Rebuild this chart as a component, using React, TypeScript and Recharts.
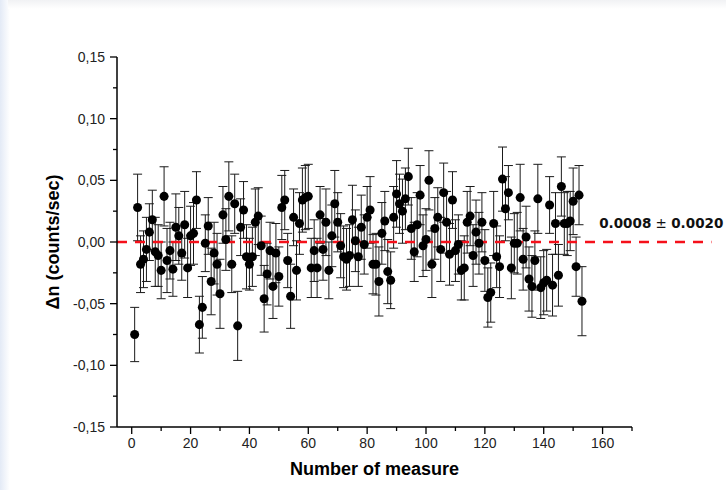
import React from 'react';
import { ScatterChart, Scatter, XAxis, YAxis, ErrorBar, ReferenceLine, ReferenceDot, Label } from 'recharts';

// Δn per measure (counts/sec), measure number = index + 1
const deltaN = [
  -0.075, 0.028, -0.018, -0.014, -0.006, 0.008, 0.018, -0.008, -0.011, -0.023,
  0.037, -0.015, -0.007, -0.022, 0.012, 0.005, -0.009, 0.014, -0.021, 0.005,
  0.007, 0.034, -0.067, -0.053, -0.001, 0.013, -0.032, -0.009, -0.018, -0.042,
  0.022, 0.002, 0.037, -0.018, 0.031, -0.068, 0.012, 0.026, -0.012, -0.018,
  -0.012, 0.016, 0.021, -0.003, -0.046, -0.026, -0.007, -0.036, -0.009, -0.028,
  0.028, 0.034, -0.015, -0.044, 0.02, -0.023, 0.015, 0.034, 0.036, 0.037,
  -0.021, -0.007, -0.021, 0.022, -0.006, 0.016, -0.023, 0.005, 0.031, 0.016,
  -0.003, -0.012, -0.014, -0.011, 0.018, 0.001, -0.012, 0.012, -0.002, 0.02,
  0.026, -0.018, -0.018, -0.032, 0.007, 0.017, -0.024, -0.031, 0.02, 0.039,
  0.031, 0.025, 0.035, 0.053, 0.011, -0.008, 0.014, 0.038, -0.003, 0.002,
  0.05, -0.018, 0.011, 0.02, -0.006, 0.04, 0.016, -0.01, 0.034, -0.007,
  -0.002, -0.023, -0.021, 0.016, 0.021, -0.011, 0.008, -0.001, 0.016, -0.015,
  -0.045, -0.041, 0.015, -0.012, -0.02, 0.051, 0.027, 0.04, -0.021, -0.001,
  -0.001, 0.036, -0.014, 0.004, -0.03, -0.036, -0.015, 0.035, -0.037, -0.033,
  -0.031, 0.03, -0.035, 0.015, -0.027, 0.045, 0.015, 0.015, 0.017, 0.033,
  -0.02, 0.038, -0.048,
];

const deltaErr = [
  0.022, 0.027, 0.023, 0.023, 0.026, 0.023, 0.024, 0.028, 0.025, 0.023,
  0.024, 0.026, 0.023, 0.022, 0.027, 0.023, 0.022, 0.027, 0.024, 0.024,
  0.025, 0.023, 0.023, 0.025, 0.023, 0.023, 0.027, 0.025, 0.025, 0.028,
  0.023, 0.025, 0.028, 0.023, 0.024, 0.028, 0.023, 0.023, 0.026, 0.021,
  0.024, 0.027, 0.023, 0.024, 0.027, 0.025, 0.023, 0.026, 0.024, 0.024,
  0.026, 0.024, 0.022, 0.026, 0.023, 0.024, 0.025, 0.026, 0.026, 0.026,
  0.024, 0.025, 0.024, 0.023, 0.025, 0.027, 0.023, 0.025, 0.027, 0.024,
  0.026, 0.025, 0.025, 0.025, 0.028, 0.025, 0.024, 0.026, 0.024, 0.025,
  0.027, 0.024, 0.025, 0.028, 0.025, 0.024, 0.026, 0.023, 0.025, 0.027,
  0.024, 0.026, 0.025, 0.023, 0.025, 0.024, 0.026, 0.024, 0.025, 0.025,
  0.024, 0.027, 0.025, 0.024, 0.026, 0.024, 0.025, 0.025, 0.023, 0.025,
  0.024, 0.024, 0.026, 0.025, 0.024, 0.025, 0.026, 0.025, 0.024, 0.025,
  0.024, 0.024, 0.026, 0.025, 0.025, 0.026, 0.026, 0.022, 0.025, 0.024,
  0.025, 0.027, 0.025, 0.025, 0.026, 0.025, 0.024, 0.028, 0.025, 0.026,
  0.025, 0.023, 0.025, 0.025, 0.025, 0.024, 0.025, 0.026, 0.024, 0.027,
  0.024, 0.024, 0.028,
];

const xTicks = [0, 10, 20, 30, 40, 50, 60, 70, 80, 90, 100, 110, 120, 130, 140, 150, 160, 170];
const yTicks = [-0.15, -0.125, -0.1, -0.075, -0.05, -0.025, 0, 0.025, 0.05, 0.075, 0.1, 0.125, 0.15];

const fitMean = '0.0008';
const fitErr = '0.0020';

const points = deltaN.map((dn, i) => ({ measure: i + 1, dn, err: deltaErr[i] }));

const font = 'Liberation Sans, Arial, sans-serif';

const XTick = (props: any) => {
  const { x, y, payload } = props;
  const v = payload.value;
  const major = v % 20 === 0;
  return (
    <g>
      <line x1={x} x2={x} y1={y} y2={y + (major ? 7 : 4)} stroke="#000" strokeWidth={1.3} />
      {major && (
        <text x={x} y={y + 21} textAnchor="middle" fontSize={14} fontFamily={font} fill="#222">
          {v}
        </text>
      )}
    </g>
  );
};

const YTick = (props: any) => {
  const { x, y, payload } = props;
  const v = payload.value;
  const major = Math.round(v * 1000) % 50 === 0;
  return (
    <g>
      <line x1={x} x2={x - (major ? 7 : 4)} y1={y} y2={y} stroke="#000" strokeWidth={1.3} />
      {major && (
        <text x={x - 12} y={y + 5} textAnchor="end" fontSize={14} fontFamily={font} fill="#222">
          {v.toFixed(2).replace('.', ',')}
        </text>
      )}
    </g>
  );
};

// fit result text, squeezed just enough to stay inside the picture
const FitLabel = (props: any) => {
  const { viewBox } = props;
  return (
    <text
      x={viewBox.x + 4}
      y={viewBox.y}
      fontFamily="DejaVu Sans, Verdana, sans-serif"
      fontSize={13.5}
      fontWeight="bold"
      fill="#111"
    >
      {fitMean}
      <tspan fontWeight="normal"> ± </tspan>
      {fitErr}
    </text>
  );
};

export default function App() {
  return (
    <div
      style={{
        position: 'absolute',
        left: 0,
        top: 0,
        width: 726,
        height: 490,
        overflow: 'hidden',
        background: '#fff',
      }}
    >
      <div
        style={{
          position: 'absolute',
          left: 0,
          top: 0,
          width: 10,
          height: 490,
          background: 'linear-gradient(to right, #e3eaf6, #ffffff)',
        }}
      />
      <div
        style={{
          position: 'absolute',
          left: 8,
          top: 0,
          width: 718,
          height: 9,
          background: 'linear-gradient(to bottom, #f1f2f4, #ffffff)',
        }}
      />
      <ScatterChart
        width={726}
        height={490}
        margin={{ top: 57, right: 94, bottom: 8, left: 37 }}
        style={{ position: 'absolute', left: 0, top: 0 }}
      >
        <XAxis
          type="number"
          dataKey="measure"
          domain={[-5, 170]}
          ticks={xTicks}
          interval={0}
          tickSize={0}
          tickMargin={0}
          tickLine={false}
          tick={<XTick />}
          axisLine={{ stroke: '#000', strokeWidth: 1.5 }}
          height={55}
        >
          <Label
            value="Number of measure"
            position="insideBottom"
            offset={7}
            style={{ fontFamily: font, fontSize: 18, fontWeight: 'bold', fill: '#000' }}
          />
        </XAxis>
        <YAxis
          type="number"
          dataKey="dn"
          domain={[-0.15, 0.15]}
          ticks={yTicks}
          interval={0}
          tickSize={0}
          tickMargin={0}
          tickLine={false}
          tick={<YTick />}
          axisLine={{ stroke: '#000', strokeWidth: 1.5 }}
          width={80}
        >
          <Label
            value="Δn (counts/sec)"
            angle={-90}
            position="insideLeft"
            offset={16}
            style={{ fontFamily: font, fontSize: 18, fontWeight: 'bold', fill: '#000', textAnchor: 'middle' }}
          />
        </YAxis>
        <Scatter data={points} fill="#000" isAnimationActive={false}>
          <ErrorBar dataKey="err" direction="y" width={4.5} stroke="#1a1a1a" strokeWidth={1} />
        </Scatter>
        <ReferenceLine
          segment={[
            { x: -5, y: 0 },
            { x: 197, y: 0 },
          ]}
          stroke="#f5101a"
          strokeWidth={2.5}
          strokeDasharray="10 8"
          ifOverflow="visible"
        />
        <ReferenceDot x={157.5} y={0.011} r={0} fill="none" stroke="none" label={FitLabel} />
      </ScatterChart>
    </div>
  );
}
